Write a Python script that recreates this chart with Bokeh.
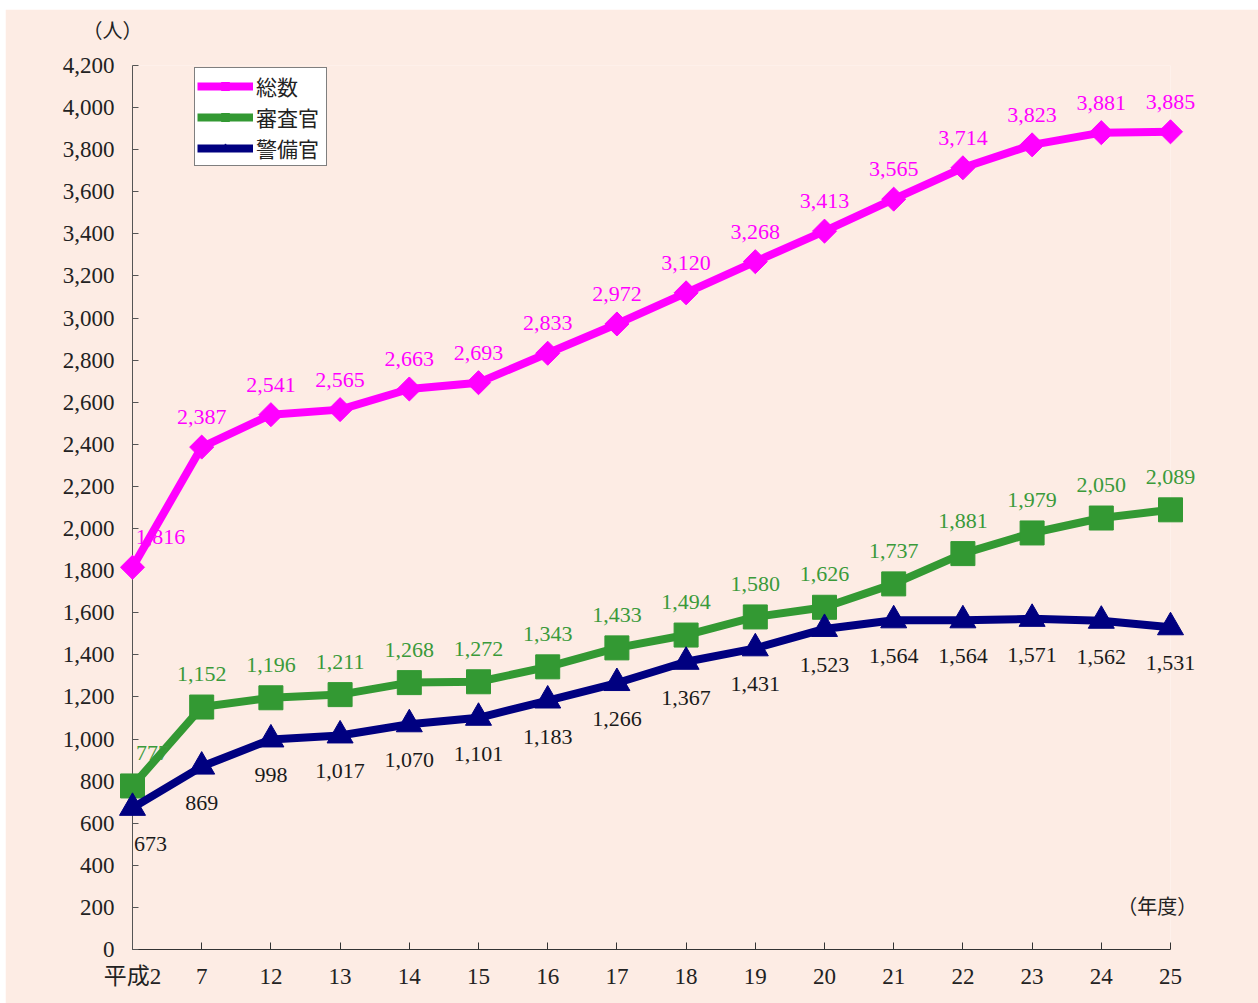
from bokeh.plotting import figure
from bokeh.models import (ColumnDataSource, FixedTicker, NumeralTickFormatter,
                          Legend, LegendItem, Spacer, Range1d)
from bokeh.layouts import column, row
from bokeh.embed import file_html
from bokeh.resources import INLINE
from bokeh.core.properties import value
import math

# 入国審査官・入国警備官の定員の推移
years = ["平成2", "7", "12", "13", "14", "15", "16", "17", "18", "19",
         "20", "21", "22", "23", "24", "25"]
total = [1816, 2387, 2541, 2565, 2663, 2693, 2833, 2972, 3120, 3268,
         3413, 3565, 3714, 3823, 3881, 3885]
examiners = [777, 1152, 1196, 1211, 1268, 1272, 1343, 1433, 1494, 1580,
             1626, 1737, 1881, 1979, 2050, 2089]
guards = [673, 869, 998, 1017, 1070, 1101, 1183, 1266, 1367, 1431,
          1523, 1564, 1564, 1571, 1562, 1531]
y_ticks = list(range(0, 4201, 200))

SERIF = "Liberation Serif, Noto Sans CJK JP"
BG = "#fdece4"
MAGENTA = "#ff00ff"
GREEN = "#339933"
NAVY = "#000080"

xs = list(range(len(years)))

p = figure(width=1253, height=994, output_backend="svg", toolbar_location=None,
           x_range=Range1d(0, len(years) - 1), y_range=Range1d(0, 4200),
           min_border_left=127, min_border_right=88,
           min_border_top=56, min_border_bottom=54,
           background_fill_color=BG, border_fill_color=BG)
p.outline_line_color = None
p.grid.visible = False

xa = p.xaxis[0]
xa.ticker = FixedTicker(ticks=xs)
xa.major_label_overrides = {i: s for i, s in enumerate(years)}
xa.major_tick_in = 7
xa.major_tick_out = 0
xa.minor_tick_line_color = None
xa.axis_line_color = "#333333"
xa.major_tick_line_color = "#333333"
xa.major_label_text_font = SERIF
xa.major_label_text_font_size = "23px"
xa.major_label_text_color = "#222222"
xa.major_label_standoff = 14

ya = p.yaxis[0]
ya.ticker = FixedTicker(ticks=y_ticks)
ya.formatter = NumeralTickFormatter(format="0,0")
ya.major_tick_in = 6
ya.major_tick_out = 0
ya.minor_tick_line_color = None
ya.axis_line_color = "#555555"
ya.major_tick_line_color = "#555555"
ya.major_label_text_font = SERIF
ya.major_label_text_font_size = "23px"
ya.major_label_text_color = "#222222"
ya.major_label_standoff = 18


def series(vals, color, marker, size, angle, label_dy, first_dx, text_color):
    src = ColumnDataSource(dict(
        x=xs, y=vals,
        txt=[f"{v:,}" for v in vals],
        dx=[first_dx] + [0] * (len(vals) - 1),
    ))
    ln = p.line("x", "y", source=src, line_color=color, line_width=8,
                level="overlay")
    sc = p.scatter("x", "y", source=src, marker=marker, size=size, angle=angle,
                   fill_color=color, line_color=color, level="overlay")
    p.text("x", "y", text="txt", source=src, x_offset="dx", y_offset=label_dy,
           text_align="center", text_baseline="middle",
           text_font=value(SERIF), text_font_size="22px",
           text_color=text_color, level="overlay")
    return ln, sc


l1, s1 = series(total, MAGENTA, "square", 17, math.pi / 4, -30, 28, MAGENTA)
l2, s2 = series(examiners, GREEN, "square", 24, 0, -33, 20, "#3a9a3a")
l3, s3 = series(guards, NAVY, "triangle", 26, 0, 36, 18, "#1a1a1a")

legend = Legend(items=[LegendItem(label="総数", renderers=[l1, s1]),
                       LegendItem(label="審査官", renderers=[l2, s2]),
                       LegendItem(label="警備官", renderers=[l3, s3])],
                location=(62, 783), margin=0, padding=2, spacing=0,
                glyph_width=56, glyph_height=20, label_height=31,
                label_width=68, label_standoff=3,
                label_text_font=SERIF, label_text_font_size="21px",
                label_text_color="#222222",
                border_line_color="#000000", border_line_width=1,
                background_fill_color="#ffffff", background_fill_alpha=1)
p.add_layout(legend)

# axis unit captions, drawn as overlay text so they sit outside the frame
cap = ColumnDataSource(dict(x=[-0.29, 14.81], y=[4366, 204],
                            t=["（人）", "（年度）"]))
p.text("x", "y", text="t", source=cap, text_align="center",
       text_baseline="middle", text_font=value(SERIF), text_font_size="20px",
       text_color="#222222", level="overlay")

page = column(Spacer(width=1258, height=9),
              row(Spacer(width=5, height=994), p))

open("out.html", "w").write(file_html(page, INLINE))
